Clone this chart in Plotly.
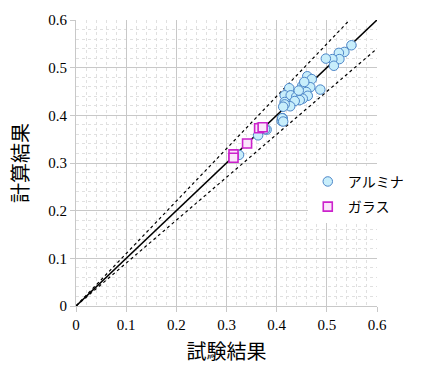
import plotly.graph_objects as go

# アルミナ (circles)
alumina_x = [0.549, 0.535, 0.524, 0.525, 0.511, 0.498, 0.514, 0.461, 0.470, 0.451, 0.456,
             0.467, 0.487, 0.425, 0.416, 0.428, 0.439, 0.449, 0.459, 0.462, 0.452, 0.446,
             0.436, 0.416, 0.427, 0.416, 0.412, 0.410, 0.380, 0.413, 0.411, 0.413, 0.363,
             0.377, 0.325, 0.444, 0.455]
alumina_y = [0.547, 0.533, 0.531, 0.518, 0.518, 0.519, 0.504, 0.482, 0.476, 0.462, 0.465,
             0.459, 0.454, 0.457, 0.442, 0.442, 0.439, 0.442, 0.449, 0.441, 0.435, 0.432,
             0.430, 0.428, 0.419, 0.423, 0.394, 0.388, 0.370, 0.418, 0.394, 0.387, 0.358,
             0.371, 0.317, 0.452, 0.470]

# ガラス (squares)
glass_x = [0.365, 0.372, 0.341, 0.314, 0.314]
glass_y = [0.373, 0.375, 0.341, 0.318, 0.311]

line_x = [0.0, 0.6]
ratio_center = 1.0
ratio_band = [1.1, 0.9]

ticks = [0, 0.1, 0.2, 0.3, 0.4, 0.5, 0.6]
tick_text = ["0", "0.1", "0.2", "0.3", "0.4", "0.5", "0.6"]

SERIF = "Liberation Serif, DejaVu Serif, serif"
CJK = "Noto Sans CJK JP"

fig = go.Figure()

fig.add_trace(go.Scatter(x=line_x, y=[v * ratio_center for v in line_x], mode="lines",
                         line=dict(color="black", width=1.6), showlegend=False, hoverinfo="skip"))
for r in ratio_band:
    fig.add_trace(go.Scatter(x=line_x, y=[v * r for v in line_x], mode="lines",
                             line=dict(color="black", width=1.2, dash="dot"),
                             showlegend=False, hoverinfo="skip"))

fig.add_trace(go.Scatter(x=alumina_x, y=alumina_y, mode="markers", name="アルミナ",
                         legendgroup="a",
                         marker=dict(symbol="circle", size=9.5, color="#c8eefb",
                                     line=dict(color="#4d86c8", width=1))))
fig.add_trace(go.Scatter(x=glass_x, y=glass_y, mode="markers", name="ガラス",
                         legendgroup="g",
                         marker=dict(symbol="square", size=9, color="#fbe6fb",
                                     line=dict(color="#cc22cc", width=1.6))))


def make_axis(title, standoff):
    return dict(
        range=[0, 0.6], tickvals=ticks, ticktext=tick_text,
        showgrid=True, gridcolor="#c8c8c8", gridwidth=1,
        zeroline=False, showline=True, linecolor="#c8c8c8", linewidth=1,
        ticks="outside", ticklen=5, tickcolor="#c8c8c8",
        tickfont=dict(family=SERIF, size=15, color="black"),
        minor=dict(dtick=0.02, tick0=0, showgrid=True, gridcolor="#e0e0e0",
                   griddash="dot", gridwidth=1),
        fixedrange=True,
        title=dict(text=title, standoff=standoff,
                   font=dict(family=CJK, size=20, color="black")),
    )


fig.update_layout(
    width=421, height=385,
    margin=dict(l=76, r=39, t=15, b=79),
    paper_bgcolor="white", plot_bgcolor="white",
    xaxis=make_axis("試験結果", 12),
    yaxis=make_axis("計算結果", 14),
    legend=dict(x=0.77, y=0.49, xanchor="left", yanchor="top", bgcolor="white",
                font=dict(family=CJK, size=14, color="black"),
                tracegroupgap=4, itemwidth=30),
    showlegend=True,
)

fig.write_html("out.html")
